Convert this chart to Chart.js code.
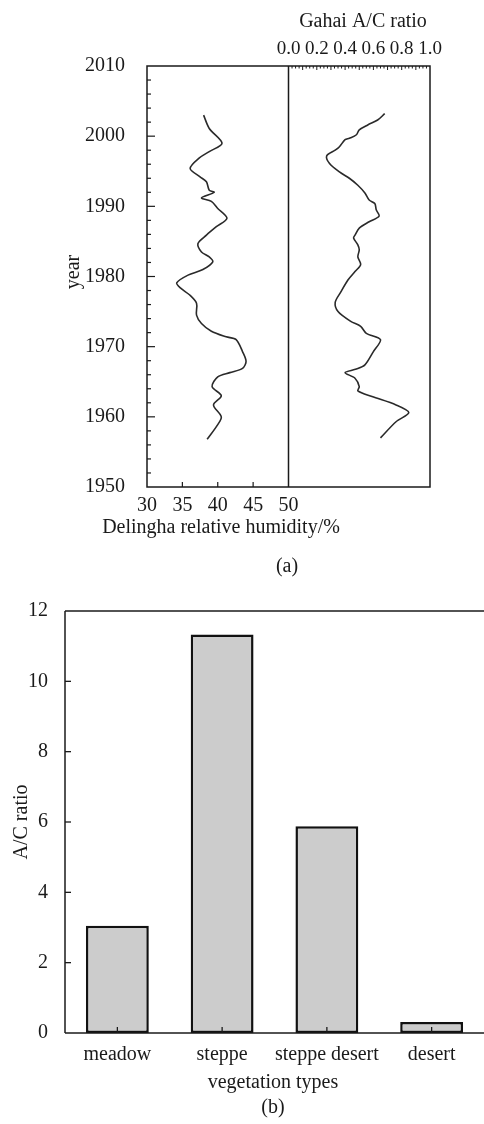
<!DOCTYPE html>
<html>
<head>
<meta charset="utf-8">
<script src="https://cdn.jsdelivr.net/npm/chart.js@4.4.1/dist/chart.umd.min.js"></script>
<style>
  html, body { margin: 0; padding: 0; background: #fff; }
  #wrapA { position: absolute; left: 0; top: 0; width: 484px; height: 580px; }
  #wrapB { position: absolute; left: 0; top: 580px; width: 484px; height: 544px; }
</style>
</head>
<body>
<div id="wrapA"><canvas id="chartA"></canvas></div>
<div id="wrapB"><canvas id="chartB"></canvas></div>
<script>
// panel (a): Delingha relative humidity (%) by year
const humidityYears = [2003.0, 2001.1, 1999.0, 1997.8, 1996.9, 1995.4, 1994.2, 1993.5, 1992.3, 1992.0,
  1991.2, 1990.7, 1989.7, 1988.3, 1987.1, 1985.9, 1984.7, 1983.5, 1982.8, 1982.1,
  1981.0, 1980.2, 1979.1, 1978.3, 1977.4, 1976.2, 1974.5, 1973.3, 1972.2, 1971.4,
  1971.0, 1969.3, 1967.9, 1966.9, 1966.3, 1965.7, 1964.3, 1963.0, 1961.7, 1960.0,
  1958.9, 1956.8];
const humidity = [38.0, 38.8, 40.6, 38.8, 37.4, 36.1, 37.5, 38.4, 38.8, 39.5,
  37.7, 39.1, 40.0, 41.3, 39.8, 38.4, 37.2, 37.7, 38.8, 39.3,
  37.9, 35.8, 34.2, 34.8, 36.0, 37.0, 37.0, 37.7, 39.1, 41.2,
  42.6, 43.5, 44.0, 43.5, 41.7, 40.0, 39.2, 40.5, 39.4, 40.5,
  40.0, 38.5];

// panel (a): Gahai A/C ratio by year
const ratioYears = [2003.2, 2002.3, 2001.6, 2000.9, 2000.2, 1999.7, 1999.5, 1998.5, 1998.0, 1997.2,
  1996.1, 1994.9, 1994.0, 1993.0, 1991.9, 1990.9, 1990.4, 1989.5, 1988.6, 1987.8,
  1986.9, 1985.9, 1985.5, 1984.5, 1983.8, 1982.8, 1981.7, 1980.7, 1979.5, 1977.8,
  1976.3, 1975.0, 1973.6, 1972.9, 1971.9, 1971.0, 1969.3, 1967.4, 1966.8, 1966.3,
  1965.5, 1964.3, 1963.7, 1962.9, 1961.7, 1960.6, 1959.3, 1957.0];
const gahaiRatio = [0.68, 0.63, 0.56, 0.50, 0.48, 0.43, 0.40, 0.36, 0.33, 0.27,
  0.29, 0.36, 0.43, 0.49, 0.54, 0.57, 0.61, 0.62, 0.64, 0.57,
  0.50, 0.47, 0.46, 0.49, 0.50, 0.49, 0.51, 0.47, 0.42, 0.37,
  0.33, 0.35, 0.44, 0.51, 0.55, 0.65, 0.60, 0.54, 0.48, 0.40,
  0.47, 0.50, 0.49, 0.59, 0.76, 0.85, 0.76, 0.65];

// panel (b)
const vegetationTypes = ['meadow', 'steppe', 'steppe desert', 'desert'];
const acRatio = [3.05, 11.33, 5.88, 0.31];

const INK = '#1a1a1a';
const SERIF = '"Liberation Serif", "DejaVu Serif", serif';
Chart.defaults.font.family = SERIF;
Chart.defaults.font.size = 20;
Chart.defaults.color = INK;

function line(ctx, x1, y1, x2, y2) {
  ctx.beginPath();
  ctx.moveTo(x1, y1);
  ctx.lineTo(x2, y2);
  ctx.stroke();
}

function text(ctx, s, x, y, rot) {
  ctx.save();
  ctx.translate(x, y);
  if (rot) ctx.rotate(rot);
  ctx.fillText(s, 0, 0);
  ctx.restore();
}

const frameA = {
  id: 'frameA',
  afterDraw(chart) {
    const ctx = chart.ctx, a = chart.chartArea;
    const sx = chart.scales.x, sx2 = chart.scales.x2, sy = chart.scales.y;
    ctx.save();
    ctx.strokeStyle = INK;
    ctx.lineWidth = 1.5;
    ctx.strokeRect(a.left, a.top, a.right - a.left, a.bottom - a.top);
    const mid = sx.getPixelForValue(50);
    line(ctx, mid, a.top, mid, a.bottom);

    ctx.lineWidth = 1.2;
    for (let yr = 1952; yr < 2010; yr += 2) {
      const p = sy.getPixelForValue(yr);
      line(ctx, a.left, p, a.left + (yr % 10 === 0 ? 8 : 4), p);
    }
    for (const v of [35, 40, 45]) {
      const p = sx.getPixelForValue(v);
      line(ctx, p, a.bottom, p, a.bottom - 5);
    }
    ctx.lineWidth = 1;
    for (let i = 1; i < 40; i++) {
      const p = sx2.getPixelForValue(i * 0.025);
      line(ctx, p, a.top, p, a.top + (i % 4 === 0 ? 4 : 2.5));
    }

    ctx.fillStyle = INK;
    ctx.font = '20px ' + SERIF;
    ctx.textAlign = 'center';
    ctx.textBaseline = 'middle';
    text(ctx, 'Gahai A/C ratio', 363, 22);
    text(ctx, 'Delingha relative humidity/%', 221, 528);
    text(ctx, '(a)', 287, 567);
    text(ctx, 'year', 74, 272, -Math.PI / 2);
    ctx.restore();
  }
};

new Chart(document.getElementById('chartA'), {
  type: 'scatter',
  data: {
    datasets: [{
      data: humidityYears.map((y, i) => ({ x: humidity[i], y })),
      xAxisID: 'x', yAxisID: 'y',
      showLine: true, borderColor: '#2a2a2a', borderWidth: 1.6,
      pointRadius: 0, tension: 0.3
    }, {
      data: ratioYears.map((y, i) => ({ x: gahaiRatio[i], y })),
      xAxisID: 'x2', yAxisID: 'y',
      showLine: true, borderColor: '#2a2a2a', borderWidth: 1.6,
      pointRadius: 0, tension: 0.3
    }]
  },
  options: {
    responsive: true,
    maintainAspectRatio: false,
    animation: false,
    devicePixelRatio: 1,
    layout: { padding: { left: 0, right: 54, top: 0, bottom: 0 } },
    plugins: { legend: { display: false }, tooltip: { enabled: false } },
    scales: {
      x: {
        type: 'linear', position: 'bottom', min: 30, max: 70,
        grid: { display: false }, border: { display: false },
        ticks: { stepSize: 5, padding: -1, maxRotation: 0,
          callback: v => (v <= 50 ? String(v) : '') },
        afterFit: s => { s.height = 93; }
      },
      x2: {
        type: 'linear', position: 'top', min: -1, max: 1,
        grid: { display: false }, border: { display: false },
        ticks: { stepSize: 0.2, padding: -2, maxRotation: 0, autoSkip: false,
          font: { size: 19 },
          callback: v => (v > -0.01 ? Math.abs(v).toFixed(1) : '') },
        afterFit: s => { s.height = 66; }
      },
      y: {
        type: 'linear', min: 1950, max: 2010,
        grid: { display: false }, border: { display: false },
        ticks: { stepSize: 10, padding: 14, callback: v => String(v) },
        afterFit: s => { s.width = 147; }
      }
    }
  },
  plugins: [frameA]
});

const frameB = {
  id: 'frameB',
  afterDraw(chart) {
    const ctx = chart.ctx, a = chart.chartArea;
    const sx = chart.scales.x, sy = chart.scales.y;
    ctx.save();
    ctx.strokeStyle = INK;
    ctx.lineWidth = 1.5;
    line(ctx, a.left, a.top, chart.width, a.top);
    line(ctx, a.left, a.top, a.left, a.bottom);
    line(ctx, a.left, a.bottom, chart.width, a.bottom);
    ctx.lineWidth = 1.3;
    for (let v = 2; v < 12; v += 2) {
      const p = sy.getPixelForValue(v);
      line(ctx, a.left, p, a.left + 6, p);
    }
    vegetationTypes.forEach((_, i) => {
      const p = sx.getPixelForValue(i);
      line(ctx, p, a.bottom, p, a.bottom - 6);
    });
    ctx.fillStyle = INK;
    ctx.font = '20px ' + SERIF;
    ctx.textAlign = 'center';
    ctx.textBaseline = 'middle';
    text(ctx, 'vegetation types', 273, 503);
    text(ctx, '(b)', 273, 528);
    text(ctx, 'A/C ratio', 22, 242, -Math.PI / 2);
    ctx.restore();
  }
};

new Chart(document.getElementById('chartB'), {
  type: 'bar',
  data: {
    labels: vegetationTypes,
    datasets: [{
      data: acRatio,
      backgroundColor: '#cccccc',
      borderColor: '#111',
      borderWidth: 2.5,
      borderSkipped: false,
      barPercentage: 0.6,
      categoryPercentage: 1
    }]
  },
  options: {
    responsive: true,
    maintainAspectRatio: false,
    animation: false,
    devicePixelRatio: 1,
    layout: { padding: { left: 0, right: 0, top: 31, bottom: 0 } },
    plugins: { legend: { display: false }, tooltip: { enabled: false } },
    scales: {
      x: {
        grid: { display: false }, border: { display: false },
        ticks: { padding: 2, maxRotation: 0, autoSkip: false },
        afterFit: s => { s.height = 91; }
      },
      y: {
        min: 0, max: 12,
        grid: { display: false }, border: { display: false },
        ticks: { stepSize: 2, padding: 9 },
        afterFit: s => { s.width = 65; }
      }
    }
  },
  plugins: [frameB]
});
</script>
</body>
</html>
